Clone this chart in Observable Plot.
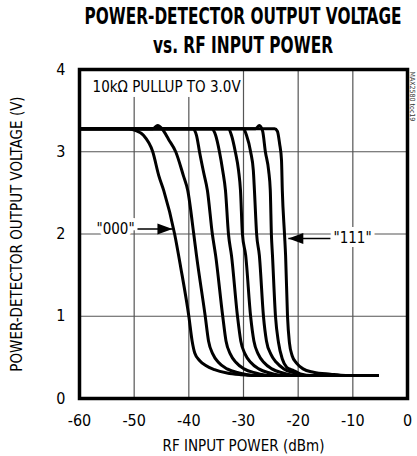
<!DOCTYPE html>
<html><head><meta charset="utf-8">
<script src="https://cdn.jsdelivr.net/npm/d3@7"></script>
<script src="https://cdn.jsdelivr.net/npm/@observablehq/plot@0.6"></script>
<style>
body{margin:0;background:#fff;width:417px;height:456px;overflow:hidden;font-family:"DejaVu Sans Condensed","DejaVu Sans",sans-serif;}
#title{height:58px;position:relative;width:417px;}
#title span{position:absolute;left:243px;white-space:nowrap;font-weight:bold;font-size:23px;line-height:1;color:#000;transform-origin:0 0;}
</style></head><body>
<div id="title"><span style="top:5px" data-w="317">POWER-DETECTOR OUTPUT VOLTAGE</span><span style="top:34px" data-w="180">vs. RF INPUT POWER</span></div>
<div id="chart"></div>
<script>
// ---- data ----
const codes = ["000", "001", "010", "011", "100", "101", "110", "111"];
const p000 = [-60, -51.0, -49.8, -48.3, -46.6, -45.5, -44.6, -42.6, -41.5, -40.0, -39.4, -38.9, -38.0, -36.9, -35.3, -33.0, -30.5, -28.0, -5.5];
const v000 = [3.28, 3.28, 3.26, 3.2, 3.0, 2.71, 2.53, 2.0, 1.6, 1.0, 0.7, 0.55, 0.46, 0.40, 0.35, 0.31, 0.29, 0.28, 0.28];
const p001 = [-60, -46.6, -45.7, -44.8, -43.7, -42.4, -41.0, -40.2, -39.1, -38.6, -37.0, -36.4, -35.6, -34.6, -33.0, -30.8, -28.0, -5.5];
const v001 = [3.28, 3.28, 3.32, 3.27, 3.15, 3.0, 2.71, 2.53, 2.0, 1.74, 1.0, 0.7, 0.54, 0.44, 0.36, 0.31, 0.28, 0.28];
const p010 = [-60, -39.3, -38.6, -38.05, -37.3, -36.6, -35.7, -35.1, -33.8, -33.2, -32.4, -31.4, -29.9, -27.8, -25.5, -5.5];
const v010 = [3.28, 3.28, 3.2, 3.0, 2.75, 2.53, 2.0, 1.74, 1.0, 0.7, 0.54, 0.44, 0.36, 0.31, 0.28, 0.28];
const p011 = [-60, -35.85, -35.1, -34.4, -33.8, -33.3, -32.75, -32.2, -31.1, -30.5, -29.7, -28.7, -27.2, -25.2, -23.0, -5.5];
const v011 = [3.28, 3.28, 3.2, 3.0, 2.77, 2.53, 2.0, 1.74, 1.0, 0.7, 0.54, 0.44, 0.36, 0.31, 0.28, 0.28];
const p100 = [-60, -32.75, -32.2, -31.5, -30.9, -30.55, -30.2, -29.6, -28.7, -28.1, -27.3, -26.3, -24.8, -22.8, -20.6, -5.5];
const v100 = [3.28, 3.28, 3.2, 3.0, 2.77, 2.53, 2.0, 1.74, 1.0, 0.7, 0.54, 0.44, 0.36, 0.31, 0.28, 0.28];
const p101 = [-60, -30.0, -29.45, -28.7, -28.2, -28.0, -27.6, -27.1, -26.35, -25.8, -25.0, -24.0, -22.6, -20.7, -18.8, -5.5];
const v101 = [3.28, 3.28, 3.2, 3.0, 2.77, 2.53, 2.0, 1.74, 1.0, 0.7, 0.54, 0.44, 0.36, 0.31, 0.28, 0.28];
const p110 = [-60, -27.8, -27.1, -26.5, -26.0, -25.4, -25.1, -24.9, -24.7, -24.15, -23.6, -22.9, -22.1, -21.6, -20.85, -19.6, -17.4, -5.5];
const v110 = [3.28, 3.28, 3.32, 3.25, 3.0, 2.77, 2.53, 2.0, 1.74, 1.0, 0.68, 0.48, 0.38, 0.36, 0.34, 0.30, 0.28, 0.28];
const p111 = [-60, -24.3, -23.8, -23.4, -23.05, -22.9, -22.5, -22.3, -21.95, -21.6, -21.1, -20.3, -19.1, -17.2, -14.1, -11.3, -5.5];
const v111 = [3.28, 3.28, 3.25, 3.1, 2.9, 2.53, 2.0, 1.74, 1.0, 0.68, 0.52, 0.43, 0.36, 0.32, 0.295, 0.28, 0.28];

const xTicks = [-60, -50, -40, -30, -20, -10, 0];
const xTickLabels = ["-60", "-50", "-40", "-30", "-20", "-10", "0"];
const yTicks = [0, 1, 2, 3, 4];
const yTickLabels = ["0", "1", "2", "3", "4"];
const xGrid = [-50, -40, -30, -20, -10];
const yGrid = [1, 2, 3];

const xLabel = "RF INPUT POWER (dBm)";
const yLabel = "POWER-DETECTOR OUTPUT VOLTAGE (V)";
const noteText = ["10kΩ PULLUP TO 3.0V"];
const noteX = [-57.6];
const noteY = [3.79];
const noteBox = [{x1: -60, x2: -30.3, y1: 3.66, y2: 4}];
const tagText = ["\"000\"", "\"111\""];
const tagX = [-53.4, -10.05];
const tagY = [2.06, 1.945];
const arrowFrom = [-49.4, -14.1];
const arrowTo = [-43.0, -21.8];
const watermark = ["MAX2580 toc19"];

// ---- build tables ----
const px = [p000, p001, p010, p011, p100, p101, p110, p111];
const pv = [v000, v001, v010, v011, v100, v101, v110, v111];
const rows = codes.flatMap((c, k) => px[k].map((x, i) => ({code: c, x, v: pv[k][i]})));
const tags = tagText.map((t, i) => ({t, x: tagX[i], y: tagY[i], x1: arrowFrom[i], x2: arrowTo[i]}));

const headRight = {draw(ctx) { ctx.moveTo(0, 0); ctx.lineTo(-15, -5.5); ctx.lineTo(-15, 5.5); ctx.closePath(); }};
const headLeft = {draw(ctx) { ctx.moveTo(0, 0); ctx.lineTo(15, -5.5); ctx.lineTo(15, 5.5); ctx.closePath(); }};

const font = "'DejaVu Sans Condensed','DejaVu Sans',sans-serif";
const chart = Plot.plot({
  width: 417, height: 398,
  marginTop: 11, marginBottom: 58, marginLeft: 79, marginRight: 10,
  style: {fontFamily: font, fontSize: "16px", background: "white", color: "black"},
  x: {domain: [-60, 0], ticks: xTicks, tickFormat: d => xTickLabels[xTicks.indexOf(d)], tickSize: 0, tickPadding: 16, label: null},
  y: {domain: [0, 4], ticks: yTicks, tickFormat: d => yTickLabels[yTicks.indexOf(d)], tickSize: 0, tickPadding: 14, label: null},
  marks: [
    Plot.ruleX(xGrid, {stroke: "#555", strokeWidth: 1.2}),
    Plot.ruleY(yGrid, {stroke: "#555", strokeWidth: 1.2}),
    Plot.rect(noteBox, {x1: "x1", x2: "x2", y1: "y1", y2: "y2", fill: "white"}),
    Plot.text(noteText, {x: noteX, y: noteY, textAnchor: "start", fontSize: 15}),
    Plot.link(tags, {x1: "x1", x2: "x2", y1: "y", y2: "y", stroke: "black", strokeWidth: 1.6}),
    Plot.dot(tags.slice(0, 1), {x: "x2", y: "y", symbol: headRight, fill: "black", stroke: "none"}),
    Plot.dot(tags.slice(1), {x: "x2", y: "y", symbol: headLeft, fill: "black", stroke: "none"}),
    Plot.text(tags, {x: "x", y: "y", text: "t", fill: "black", stroke: "white", strokeWidth: 8, fontSize: 15}),
    Plot.line(rows, {x: "x", y: "v", z: "code", stroke: "black", strokeWidth: 3, curve: "monotone-x"}),
    Plot.text([xLabel], {frameAnchor: "bottom", dy: 48, lineAnchor: "middle", textAnchor: "middle", fontSize: 15}),
    Plot.text([yLabel], {frameAnchor: "left", dx: -62, rotate: -90, textAnchor: "middle", lineAnchor: "middle", fontSize: 15}),
    Plot.text(watermark, {x: [0], y: [4], dx: 5, dy: 2, rotate: 90, textAnchor: "start", fontSize: 7, fill: "#333"}),
    Plot.frame({stroke: "black", strokeWidth: 3.5})
  ]
});
document.getElementById("chart").appendChild(chart);
document.querySelectorAll("#title span").forEach(s => {
  const w = s.getBoundingClientRect().width;
  s.style.transform = `scaleX(${(+s.dataset.w / w).toFixed(3)}) translateX(-50%)`;
});
</script>
</body></html>
